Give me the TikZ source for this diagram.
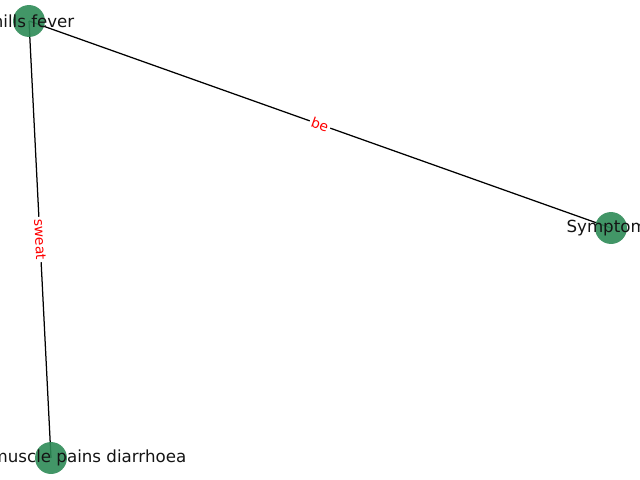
\documentclass[tikz,border=0pt]{standalone}
\usepackage{fontspec}
\setmainfont{DejaVu Sans}
\definecolor{nodegreen}{RGB}{46,139,87}
\definecolor{txtcol}{RGB}{20,20,20}
\begin{document}
\begin{tikzpicture}[x=0.72pt,y=-0.72pt,
  vertex/.style={circle,fill=nodegreen,fill opacity=0.9,inner sep=0pt,minimum size=23pt},
  vlabel/.style={font=\fontsize{12}{14}\selectfont,text=txtcol,inner sep=0pt},
  edgelab/.style={font=\fontsize{10}{12}\selectfont,text=red,fill=white,inner sep=1.5pt,sloped,pos=0.5},
  link/.style={draw=black,line width=0.9pt}]
\useasboundingbox (0,0) rectangle (640,480);
\clip (0,0) rectangle (640,480);
\coordinate (c) at (29,21);
\coordinate (s) at (611,228);
\coordinate (m) at (51,458);
\draw[link] (c) -- node[edgelab]{be} (s);
\draw[link] (c) -- node[edgelab]{sweat} (m);
\node[vertex] (cn) at (c) {};
\node[vertex] (sn) at (s) {};
\node[vertex] (mn) at (m) {};
\node[vlabel] (cl) at (cn.center) {chills fever};
\node[vlabel] (sl) at (sn.center) {Symptoms};
\node[vlabel,anchor=east] (ml) at (186.5,458) {muscle pains diarrhoea};
\end{tikzpicture}
\end{document}
